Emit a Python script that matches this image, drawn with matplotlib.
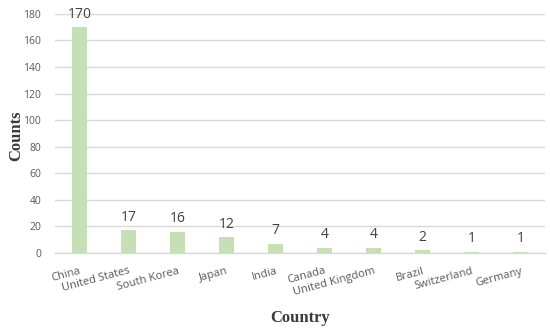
import matplotlib
matplotlib.use('Agg')
import matplotlib.pyplot as plt

countries = ['China', 'United States', 'South Korea', 'Japan', 'India',
             'Canada', 'United Kingdom', 'Brazil', 'Switzerland', 'Germany']
counts = [170, 17, 16, 12, 7, 4, 4, 2, 1, 1]
yticks = [0, 20, 40, 60, 80, 100, 120, 140, 160, 180]

fig = plt.figure(figsize=(5.5, 3.31), dpi=100)
ax = fig.add_axes([0.1, 0.2356, 0.891, 0.7224])

x = range(len(countries))
bars = ax.bar(x, counts, width=0.29, color='#C5E0B4', zorder=3)
for xi, c in zip(x, counts):
    ax.text(xi, c + 4, str(c), ha='center', va='bottom', fontsize=10,
            color='#404040', family='Open Sans', clip_on=False)

ax.set_xlim(-0.5, len(countries) - 0.5)
ax.set_ylim(0, 180)
ax.set_yticks(yticks)
ax.set_yticklabels([str(v) for v in yticks], family='Open Sans', fontsize=7.5, color='#595959')
ax.set_xticks(list(x))
ax.set_xticklabels(countries, rotation=15, ha='right', rotation_mode='anchor',
                   family='Open Sans', fontsize=8, color='#595959')
ax.tick_params(axis='y', length=0, pad=10)
ax.tick_params(axis='x', length=0, pad=9)
ax.grid(axis='y', color='#D9D9D9', linewidth=1, zorder=0)
for s in ['top', 'right', 'left']:
    ax.spines[s].set_visible(False)
ax.spines['bottom'].set_color('#D9D9D9')
ax.spines['bottom'].set_linewidth(1)

fig.text(0.03, 0.59, 'Counts', rotation=90, ha='center', va='center',
         family='Liberation Serif', fontweight='bold', fontsize=12, color='#3a3a3a')
fig.text(0.545, 0.04, 'Country', ha='center', va='center',
         family='Liberation Serif', fontweight='bold', fontsize=12, color='#3a3a3a')

fig.savefig('out.png', dpi=100)
